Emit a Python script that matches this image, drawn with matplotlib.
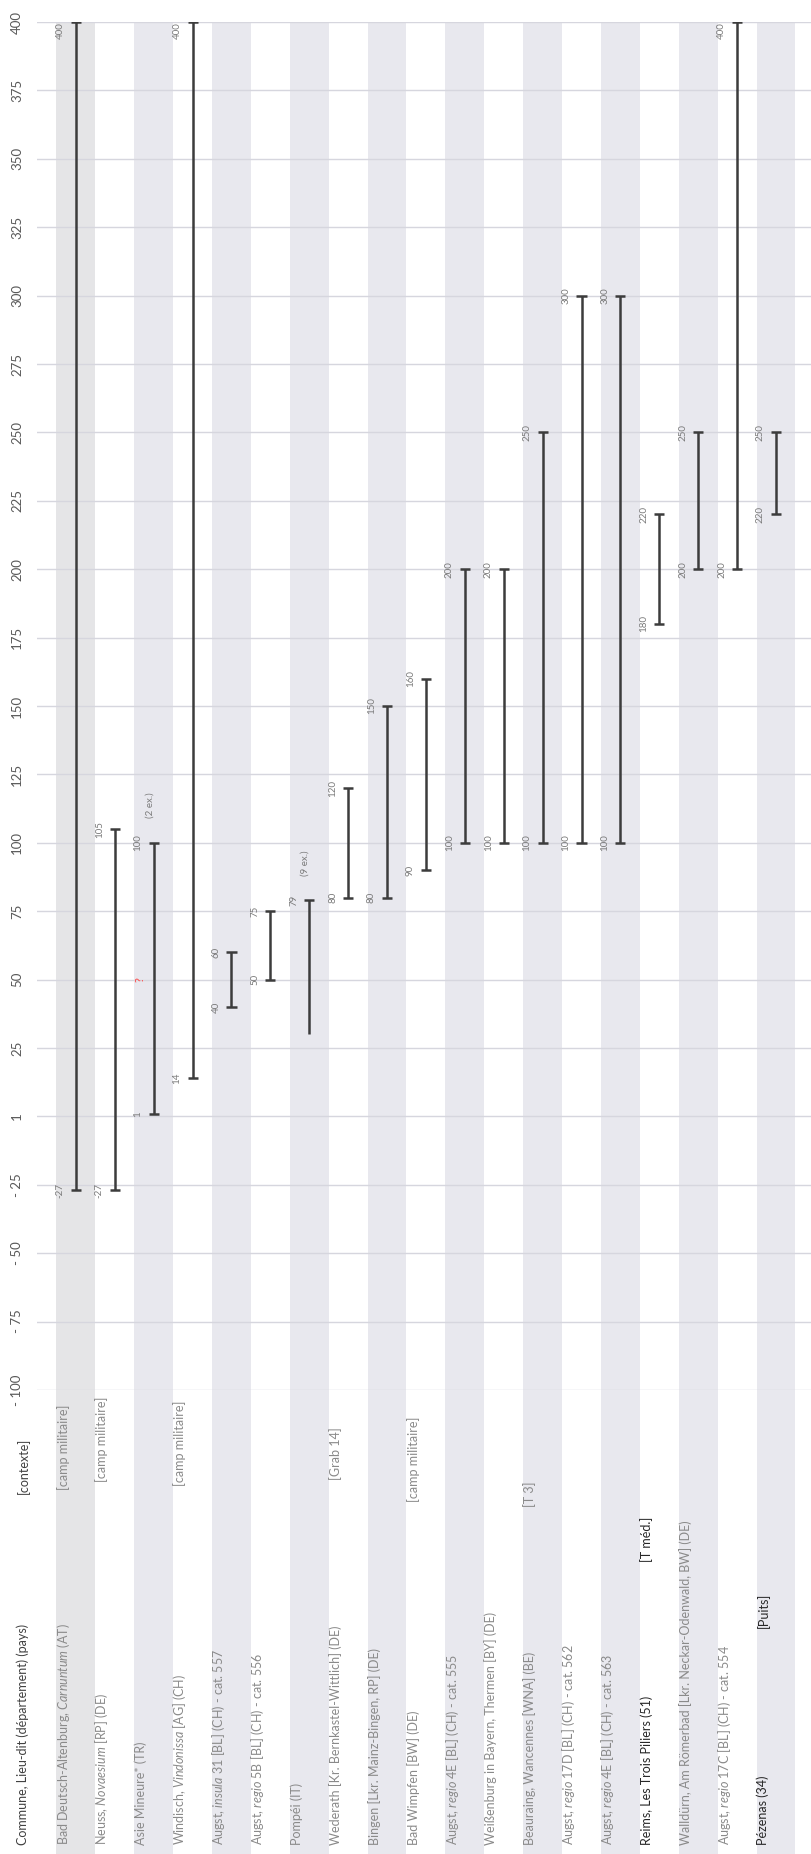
import numpy as np
import matplotlib.pyplot as plt

plt.rcParams['font.family'] = ['Lato', 'DejaVu Sans']
plt.rcParams['mathtext.fontset'] = 'custom'
plt.rcParams['mathtext.rm'] = 'Lato'
plt.rcParams['mathtext.it'] = 'Lato:italic'
plt.rcParams['mathtext.bf'] = 'Lato:bold'

# Sites (commune, lieu-dit, pays) and context, one per row
sites = [
    r"Bad Deutsch-Altenburg, $\mathit{Carnuntum}$ (AT)",
    r"Neuss, $\mathit{Novaesium}$ [RP] (DE)",
    "Asie Mineure* (TR)",
    r"Windisch, $\mathit{Vindonissa}$ [AG] (CH)",
    r"Augst, $\mathit{insula}$ 31 [BL] (CH) - cat. 557",
    r"Augst, $\mathit{regio}$ 5B [BL] (CH) - cat. 556",
    "Pompéi (IT)",
    "Wederath [Kr. Bernkastel-Wittlich] (DE)",
    "Bingen [Lkr. Mainz-Bingen, RP] (DE)",
    "Bad Wimpfen [BW] (DE)",
    r"Augst, $\mathit{regio}$ 4E [BL] (CH) - cat. 555",
    "Weißenburg in Bayern, Thermen [BY] (DE)",
    "Beauraing, Wancennes [WNA] (BE)",
    r"Augst, $\mathit{regio}$ 17D [BL] (CH) - cat. 562",
    r"Augst, $\mathit{regio}$ 4E [BL] (CH) - cat. 563",
    "Reims, Les Trois Piliers (51)",
    "Walldürn, Am Römerbad [Lkr. Neckar-Odenwald, BW] (DE)",
    r"Augst, $\mathit{regio}$ 17C [BL] (CH) - cat. 554",
    "Pézenas (34)",
]
contexts = ["[camp militaire]", "[camp militaire]", "", "[camp militaire]", "", "", "",
            "[Grab 14]", "", "[camp militaire]", "", "", "[T 3]", "", "",
            "[T méd.]", "", "", "[Puits]"]

# dating ranges
start = [-27, -27, 1, 14, 40, 50, 30, 80, 80, 90, 100, 100, 100, 100, 100, 180, 200, 200, 220]
end = [400, 105, 100, 400, 60, 75, 79, 120, 150, 160, 200, 200, 250, 300, 300, 220, 250, 400, 250]
start_known = [True] * 6 + [False] + [True] * 12
copies = ["", "", "(2 ex.)", "", "", "", "(9 ex.)", "", "", "", "", "", "", "", "", "", "", "", ""]
doubtful_at = [None, None, 50] + [None] * 16
highlight = [False] * 15 + [True, False, False, True]

ticks = list(range(-100, 401, 25))
tick_labels = ["- 100", "- 75", "- 50", "- 25", "1", "25", "50", "75", "100", "125", "150",
               "175", "200", "225", "250", "275", "300", "325", "350", "375", "400"]

# layout (pixels)
W, H = 811, 1854
left_px, top_px, bottom_px = 37, 22, 1390
ctx_bottom = [1490, 1482, 0, 1486, 0, 0, 0, 1480, 0, 1502, 0, 0, 1507, 0, 0, 1562, 0, 0, 1628]

rows = np.arange(1, len(sites) + 1)
xmax = 19.9
band = '#e8e8ee'

fig = plt.figure(figsize=(W / 100, H / 100), dpi=100)

# background bands running through plot and label area
ax_bg = fig.add_axes([left_px / W, 0, 1 - left_px / W, (H - top_px) / H])
ax_bg.set_xlim(0, xmax)
ax_bg.set_ylim(H, top_px)
ax_bg.axis('off')
for r in rows[::2]:
    ax_bg.axvspan(r - 0.5, r + 0.5, color='#e5e5e7' if r == 1 else band, lw=0)

# labels
lab_kw = dict(rotation=90, ha='center', va='bottom', fontsize=9)
ax_bg.text(-0.36, 1845, "Commune, Lieu-dit (département) (pays)", color='#404040', **lab_kw)
ax_bg.text(-0.36, 1494, "[contexte]", color='#404040', **lab_kw)
for r, s, c, cy, hl in zip(rows, sites, contexts, ctx_bottom, highlight):
    col = '#262626' if hl else '#8a8a8a'
    ax_bg.text(r - 0.33, 1845, s, color=col, **lab_kw)
    if c:
        ax_bg.text(r - 0.33, cy, c, color=col, **lab_kw)

# main plot
ax = fig.add_axes([left_px / W, (H - bottom_px) / H, 1 - left_px / W, (bottom_px - top_px) / H])
ax.patch.set_alpha(0)
ax.set_xlim(0, xmax)
ax.set_ylim(-100, 400)
for sp in ax.spines.values():
    sp.set_visible(False)
ax.set_xticks([])
ax.set_yticks(ticks)
ax.set_yticklabels(tick_labels, rotation=90, va='center', fontsize=9.5, color='#595959')
ax.tick_params(axis='y', length=0, pad=10)
ax.yaxis.grid(True, color='#d6d6de', lw=1)
ax.set_axisbelow(True)

line_col = '#3c3c3c'
cap = 0.13
ax.vlines(rows, start, end, color=line_col, lw=1.8, zorder=3)
ax.hlines(end, rows - cap, rows + cap, color=line_col, lw=1.8, zorder=3)
ks = np.array(start_known)
ax.hlines(np.array(start)[ks], rows[ks] - cap, rows[ks] + cap, color=line_col, lw=1.8, zorder=3)

val_kw = dict(rotation=90, ha='center', fontsize=7, color='#7a7a7a')
for r, s, e, k, cp, dq in zip(rows, start, end, start_known, copies, doubtful_at):
    ax.text(r - 0.4, e, str(e), va='top' if e >= 400 else 'center', **val_kw)
    if k:
        ax.text(r - 0.4, s, str(s), va='center', **val_kw)
    if cp:
        ax.text(r - 0.1, e + 9, cp, va='bottom', **val_kw)
    if dq is not None:
        ax.text(r - 0.35, dq, "?", rotation=90, ha='center', va='center', fontsize=8, color='#ff4040')

fig.savefig('out.png', dpi=100)
